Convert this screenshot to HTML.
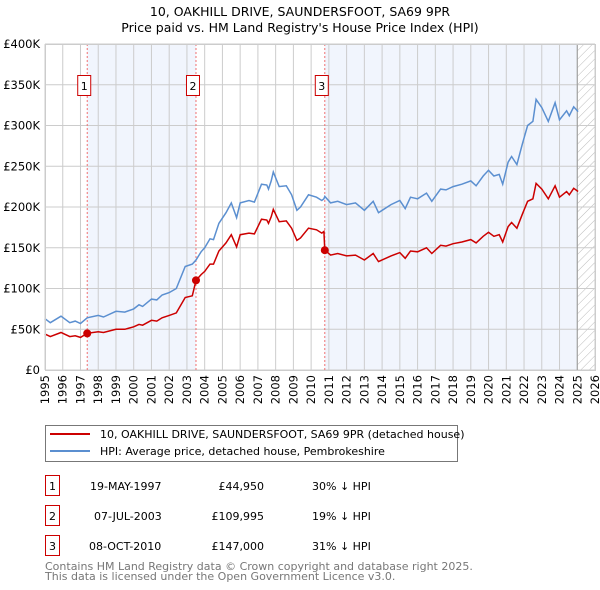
<!DOCTYPE html>
<html><head><meta charset="utf-8"><style>
body{margin:0;background:#fff;}
svg{display:block;font-family:"DejaVu Sans","Liberation Sans",sans-serif;}
</style></head><body>
<svg id="chart" width="600" height="590" viewBox="0 0 600 590">
<defs><pattern id="hatch" width="6" height="6" patternUnits="userSpaceOnUse" patternTransform="rotate(45)"><line x1="0" y1="0" x2="0" y2="6" stroke="#bbb" stroke-width="1"/></pattern></defs>
<text x="300" y="16" text-anchor="middle" font-size="12.5">10, OAKHILL DRIVE, SAUNDERSFOOT, SA69 9PR</text>
<text x="300" y="32" text-anchor="middle" font-size="12.5">Price paid vs. HM Land Registry's House Price Index (HPI)</text>
<g id="plot"></g>
<g>
<rect x="45.5" y="425.5" width="412" height="36" fill="#fff" stroke="#777"/>
<line x1="50" y1="434" x2="90" y2="434" stroke="#cc0000" stroke-width="2"/>
<text x="100" y="438" font-size="11">10, OAKHILL DRIVE, SAUNDERSFOOT, SA69 9PR (detached house)</text>
<line x1="50" y1="451" x2="90" y2="451" stroke="#5b8fd0" stroke-width="2"/>
<text x="100" y="455" font-size="11">HPI: Average price, detached house, Pembrokeshire</text>
</g>
<g font-size="11">
<rect x="45.5" y="475.5" width="14" height="20" fill="#fff" stroke="#cc0000"/><text x="52.5" y="490" text-anchor="middle">1</text>
<text x="90" y="490">19-MAY-1997</text><text x="264" y="490" text-anchor="end">£44,950</text><text x="312" y="490">30% ↓ HPI</text>
<rect x="45.5" y="505.5" width="14" height="20" fill="#fff" stroke="#cc0000"/><text x="52.5" y="520" text-anchor="middle">2</text>
<text x="94" y="520">07-JUL-2003</text><text x="264" y="520" text-anchor="end">£109,995</text><text x="312" y="520">19% ↓ HPI</text>
<rect x="45.5" y="535.5" width="14" height="20" fill="#fff" stroke="#cc0000"/><text x="52.5" y="550" text-anchor="middle">3</text>
<text x="89" y="550">08-OCT-2010</text><text x="264" y="550" text-anchor="end">£147,000</text><text x="312" y="550">31% ↓ HPI</text>
</g>
<text x="45" y="570" font-size="11" fill="#777">Contains HM Land Registry data © Crown copyright and database right 2025.</text>
<text x="45" y="580" font-size="11" fill="#777">This data is licensed under the Open Government Licence v3.0.</text>
</svg>
<script>
const dates=[1995.0,1995.3,1995.9,1996.4,1996.7,1997.0,1997.38,1998.0,1998.3,1999.0,1999.5,2000.0,2000.3,2000.5,2001.0,2001.3,2001.6,2002.0,2002.4,2002.9,2003.3,2003.51,2003.8,2004.0,2004.3,2004.5,2004.8,2005.2,2005.5,2005.8,2006.0,2006.5,2006.8,2007.2,2007.5,2007.6,2007.75,2007.87,2008.2,2008.6,2008.9,2009.2,2009.4,2009.85,2010.3,2010.6,2010.72,2010.77,2011.1,2011.5,2012.0,2012.5,2013.0,2013.5,2013.8,2014.5,2015.0,2015.3,2015.6,2016.0,2016.5,2016.8,2017.3,2017.6,2018.0,2018.5,2019.0,2019.3,2019.7,2020.0,2020.3,2020.6,2020.8,2021.1,2021.3,2021.6,2021.9,2022.2,2022.5,2022.68,2023.0,2023.37,2023.75,2024.0,2024.4,2024.55,2024.8,2025.05];
const hpiValues=[63,58,66,58,60,57,64,67,65,72,71,75,80,78,87,86,92,95,100,127,130,135,145,150,161,160,180,193,205,187,205,208,206,228,227,222,232,243,225,226,215,196,200,215,212,208,210,213,205,207,203,205,196,207,193,203,208,198,212,210,217,207,222,221,225,228,232,226,238,245,238,240,228,255,262,252,277,300,305,332,322,305,328,307,318,312,323,317];
const priceValues=[44,41,46,41,42,40,45,47,46,50,50,53,56,55,61,60,64,67,70,89,91,110,117,121,130,130,146,156,166,151,166,168,167,185,184,180,188,197,182,183,174,159,162,174,172,168,170,147,141,143,140,141,135,143,133,140,144,137,146,145,150,143,153,152,155,157,160,156,164,169,164,166,157,176,181,174,191,207,210,229,222,210,226,212,219,215,223,219];
const saleDates=[1997.38,2003.51,2010.77];
const salePrices=[44.95,109.995,147];
const saleLabels=["1","2","3"];
const yTicks=[0,50,100,150,200,250,300,350,400];
const yTickLabels=["£0","£50K","£100K","£150K","£200K","£250K","£300K","£350K","£400K"];
const xYears=[1995,1996,1997,1998,1999,2000,2001,2002,2003,2004,2005,2006,2007,2008,2009,2010,2011,2012,2013,2014,2015,2016,2017,2018,2019,2020,2021,2022,2023,2024,2025,2026];

const X0=45,X1=595,Y0=370,Y1=44;
const xs=y=>X0+(y-1995)/(2026-1995)*(X1-X0);
const ys=v=>Y0-v/400*(Y0-Y1);
const NS="http://www.w3.org/2000/svg";
const g=document.getElementById('plot');
function mk(t,a,p){const e=document.createElementNS(NS,t);for(const k in a)e.setAttribute(k,a[k]);(p||g).appendChild(e);return e;}

let e;
e=mk('rect',{x:X0,y:Y1,width:X1-X0,height:Y0-Y1,fill:'#fff'});


e=mk('rect',{x:xs(saleDates[0]),y:Y1,width:xs(saleDates[1])-xs(saleDates[0]),height:Y0-Y1,fill:'#eef3fd',opacity:0.8});


e=mk('rect',{x:xs(saleDates[2]),y:Y1,width:xs(2025.0)-xs(saleDates[2]),height:Y0-Y1,fill:'#eef3fd',opacity:0.8});


e=mk('rect',{x:xs(2025.0),y:Y1,width:X1-xs(2025.0),height:Y0-Y1,fill:'url(#hatch)'});



yTicks.forEach((v,i)=>{
  const l=mk('line',{x1:X0,x2:X1,y1:ys(v),y2:ys(v),stroke:'#ccc','stroke-width':1});
  
  
  const t=mk('text',{x:X0-5,y:ys(v)+4,'text-anchor':'end','font-size':'11.5'});
  t.textContent=yTickLabels[i];
  
  
});
xYears.forEach(yr=>{
  const l=mk('line',{x1:xs(yr),x2:xs(yr),y1:Y1,y2:Y0,stroke:'#ccc','stroke-width':1});
  
  
  const t=mk('text',{x:0,y:0,'text-anchor':'end','font-size':'11.5',transform:`translate(${xs(yr)+4},${Y0+5}) rotate(-90)`});
  t.textContent=yr;
  
  
});
e=mk('line',{x1:xs(2025.0),x2:xs(2025.0),y1:Y1,y2:Y0,stroke:'#999','stroke-width':1});



saleDates.forEach((d,i)=>{
  const l=mk('line',{x1:xs(d),x2:xs(d),y1:Y1,y2:Y0,stroke:'#f07070','stroke-dasharray':'2,2','stroke-width':1});
  
  
});

const path=vals=>vals.map((v,i)=>(i?'L':'M')+xs(dates[i]).toFixed(1)+','+ys(v).toFixed(1)).join('');
e=mk('path',{d:path(hpiValues),fill:'none',stroke:'#5b8fd0','stroke-width':1.5});


e=mk('path',{d:path(priceValues),fill:'none',stroke:'#cc0000','stroke-width':1.5});



saleDates.forEach((d,i)=>{
  const c=mk('circle',{cx:xs(d),cy:ys(salePrices[i]),r:4,fill:'#cc0000'});
  
  
  const bx=xs(d)-9;
  const r=mk('rect',{x:bx-0.5,y:75.5,width:13,height:20,fill:'#fff',stroke:'#cc0000'});
  
  
  const t=mk('text',{x:bx+6,y:90,'text-anchor':'middle','font-size':'11'});
  t.textContent=saleLabels[i];
  
  
});
e=mk('rect',{x:X0+0.5,y:Y1+0.5,width:X1-X0,height:Y0-Y1,fill:'none',stroke:'#ccc'});


</script>
</body></html>
